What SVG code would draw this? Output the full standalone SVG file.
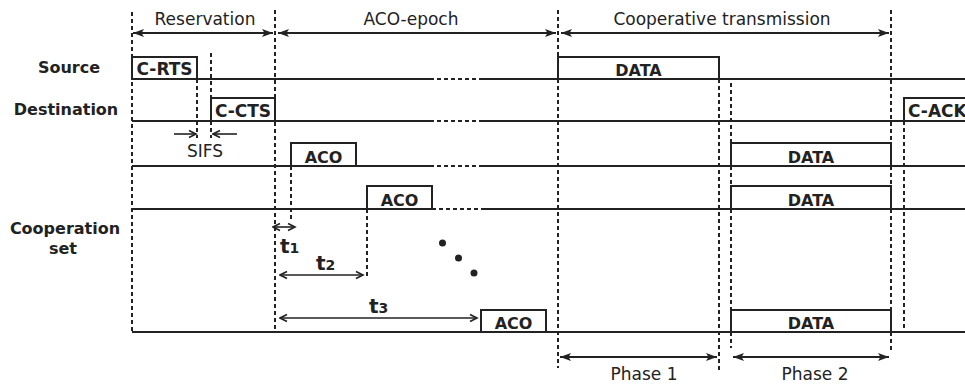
<svg xmlns="http://www.w3.org/2000/svg" width="965" height="387" viewBox="0 0 965 387">
  <defs>
    <marker id="ah" viewBox="0 0 11 8" refX="11" refY="4" markerWidth="11" markerHeight="8" markerUnits="userSpaceOnUse" orient="auto-start-reverse">
      <path d="M0,0 L11,4 L0,8 L2.5,4 Z" fill="#222"/>
    </marker>
    <marker id="chev" viewBox="0 0 10 10" refX="8.5" refY="5" markerWidth="10" markerHeight="10" markerUnits="userSpaceOnUse" orient="auto-start-reverse">
      <path d="M1.5,1.5 L8.5,5 L1.5,8.5" fill="none" stroke="#222" stroke-width="1.6"/>
    </marker>
  </defs>
  <style>
    .lane { stroke: #222; stroke-width: 2; fill: none; }
    .dot { stroke: #222; stroke-width: 2; fill: none; stroke-dasharray: 4 3; }
    .vdash { stroke: #222; stroke-width: 2; fill: none; stroke-dasharray: 4 3; }
    .frame { stroke: #222; stroke-width: 2; fill: #fff; }
    .span { stroke: #222; stroke-width: 2; fill: none; marker-start: url(#ah); marker-end: url(#ah); }
    .gap { stroke: #222; stroke-width: 1.6; fill: none; marker-end: url(#chev); }
    .sub { stroke: #222; stroke-width: 1.6; fill: none; marker-start: url(#chev); marker-end: url(#chev); }
    .lbl { font-family: "DejaVu Sans", Verdana, sans-serif; font-size: 17px; fill: #222; }
    .row { font-family: "DejaVu Sans", Verdana, sans-serif; font-size: 16px; font-weight: bold; fill: #222; text-anchor: middle; }
    .pkt { font-family: "DejaVu Sans", Verdana, sans-serif; font-size: 16px; font-weight: bold; fill: #222; text-anchor: middle; }
    .tv { font-family: "DejaVu Sans", Verdana, sans-serif; font-size: 20px; font-weight: bold; fill: #222; }
    .mid { text-anchor: middle; }
  </style>

  <!-- row titles -->
  <g id="row-labels">
    <text class="row" x="69" y="73">Source</text>
    <text class="row" x="66" y="115">Destination</text>
    <text class="row" x="65" y="234">Cooperation</text>
    <text class="row" x="63" y="254">set</text>
  </g>

  <!-- time lanes -->
  <g id="lanes">
    <path class="lane" d="M132,79 H430 M480,79 H965"/>
    <path class="dot" d="M430,79 H480"/>
    <path class="lane" d="M132,121 H430 M481,121 H965"/>
    <path class="dot" d="M430,121 H481"/>
    <path class="lane" d="M132,166 H430 M482,166 H965"/>
    <path class="dot" d="M430,166 H482"/>
    <path class="lane" d="M132,209 H432 M485,209 H965"/>
    <path class="dot" d="M432,209 H485"/>
    <path class="lane" d="M132,332 H965"/>
  </g>

  <!-- timing markers -->
  <g id="connectors">
    <path class="vdash" d="M132,12 V332"/>
    <path class="vdash" d="M197,79 V138"/>
    <path class="vdash" d="M211,53 V98 M211,121 V138"/>
    <path class="vdash" d="M275,10 V332"/>
    <path class="vdash" d="M291,166 V222"/>
    <path class="vdash" d="M367,209 V276"/>
    <path class="vdash" d="M558,10 V57 M558,79 V368"/>
    <path class="vdash" d="M719,79 V372"/>
    <path class="vdash" d="M731,83 V143 M731,166 V186 M731,209 V310 M731,332 V348"/>
    <path class="vdash" d="M891,10 V143 M891,166 V186 M891,209 V310 M891,332 V353"/>
    <path class="vdash" d="M904,121 V332"/>

    <!-- period spans -->
    <path class="span" d="M133,33 H273"/>
    <path class="span" d="M278,33 H556"/>
    <path class="span" d="M561,33 H889"/>
    <path class="span" d="M560,357 H717"/>
    <path class="span" d="M733,357 H889"/>

    <!-- SIFS gap -->
    <path class="gap" d="M174,134 H196"/>
    <path class="gap" d="M237,134 H213"/>

    <!-- back-off intervals -->
    <path class="sub" d="M273,227 H295"/>
    <path class="sub" d="M280,275 H363"/>
    <path class="sub" d="M280,318 H477"/>

    <!-- continuation dots -->
    <circle cx="442.5" cy="243" r="3.5" fill="#222"/>
    <circle cx="458.5" cy="258" r="3.5" fill="#222"/>
    <circle cx="474" cy="273" r="3.5" fill="#222"/>
  </g>

  <!-- period titles -->
  <g id="period-labels">
    <text class="lbl mid" x="205" y="25">Reservation</text>
    <text class="lbl mid" x="411" y="25">ACO-epoch</text>
    <text class="lbl mid" x="722" y="25">Cooperative transmission</text>
    <text class="lbl mid" x="205" y="157">SIFS</text>
    <text class="lbl mid" x="644" y="380">Phase 1</text>
    <text class="lbl mid" x="815" y="380">Phase 2</text>
  </g>

  <!-- frames -->
  <g id="c-rts">
    <rect class="frame" x="132" y="57" width="65" height="22"/>
    <text class="pkt" x="164.5" y="75" style="font-size:17px">C-RTS</text>
  </g>
  <g id="c-cts">
    <rect class="frame" x="211" y="98" width="64" height="23"/>
    <text class="pkt" x="243" y="117" style="font-size:17px">C-CTS</text>
  </g>
  <g id="data-source">
    <rect class="frame" x="558" y="57" width="161" height="22"/>
    <text class="pkt" x="638.5" y="76">DATA</text>
  </g>
  <g id="c-ack">
    <rect class="frame" x="904" y="98" width="66" height="23"/>
    <text class="pkt" x="908" y="117" style="font-size:17px;text-anchor:start">C-ACK</text>
  </g>
  <g id="aco-1">
    <rect class="frame" x="291" y="143" width="65" height="23"/>
    <text class="pkt" x="323.5" y="163">ACO</text>
  </g>
  <g id="aco-2">
    <rect class="frame" x="367" y="186" width="65" height="23"/>
    <text class="pkt" x="399.5" y="206">ACO</text>
  </g>
  <g id="aco-3">
    <rect class="frame" x="481" y="310" width="65" height="22"/>
    <text class="pkt" x="513.5" y="329">ACO</text>
  </g>
  <g id="data-coop-1">
    <rect class="frame" x="731" y="143" width="160" height="23"/>
    <text class="pkt" x="811" y="163">DATA</text>
  </g>
  <g id="data-coop-2">
    <rect class="frame" x="731" y="186" width="160" height="23"/>
    <text class="pkt" x="811" y="206">DATA</text>
  </g>
  <g id="data-coop-3">
    <rect class="frame" x="731" y="310" width="160" height="22"/>
    <text class="pkt" x="811" y="329">DATA</text>
  </g>

  <!-- interval names -->
  <g id="interval-labels">
    <text class="tv" x="280" y="253">t<tspan font-size="14">1</tspan></text>
    <text class="tv" x="316" y="270">t<tspan font-size="14">2</tspan></text>
    <text class="tv" x="369" y="313">t<tspan font-size="14">3</tspan></text>
  </g>
</svg>
